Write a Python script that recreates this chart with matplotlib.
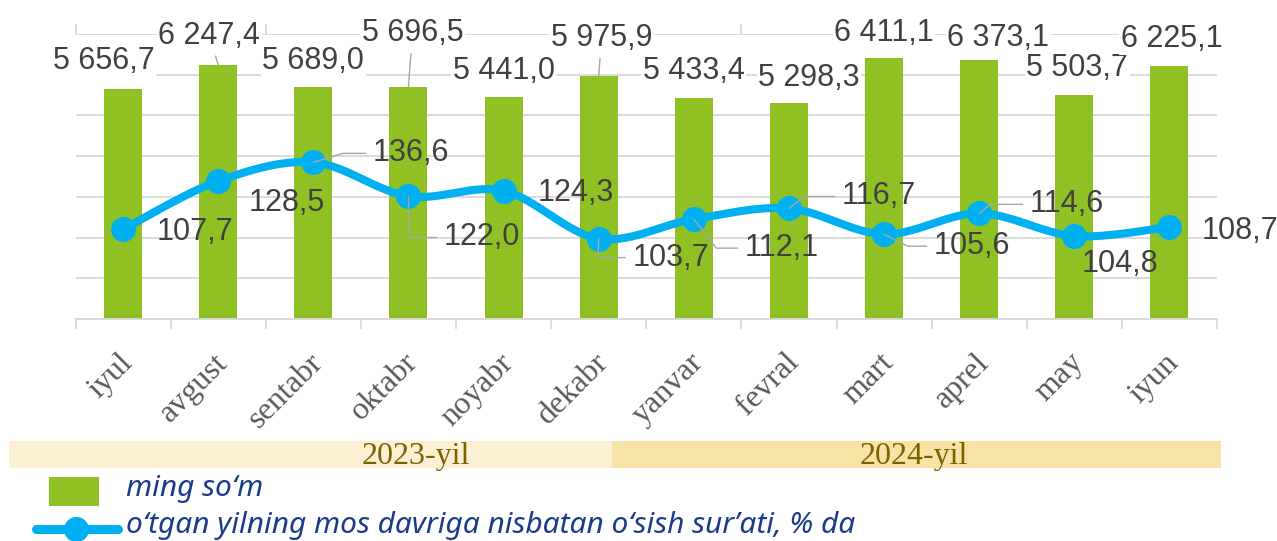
import numpy as np
import matplotlib.pyplot as plt
from matplotlib.patches import Rectangle
from matplotlib.lines import Line2D
from matplotlib.transforms import ScaledTranslation

months = ['iyul', 'avgust', 'sentabr', 'oktabr', 'noyabr', 'dekabr',
          'yanvar', 'fevral', 'mart', 'aprel', 'may', 'iyun']
wages = [5656.7, 6247.4, 5689.0, 5696.5, 5441.0, 5975.9,
         5433.4, 5298.3, 6411.1, 6373.1, 5503.7, 6225.1]
growth = [107.7, 128.5, 136.6, 122.0, 124.3, 103.7,
          112.1, 116.7, 105.6, 114.6, 104.8, 108.7]
years = ['2023-yil', '2024-yil']
legend_labels = ['ming so\u2018m',
                 'o\u2018tgan yilning mos davriga nisbatan o\u2018sish sur\u2019ati, % da']

GREEN = '#8FC125'
BLUE = '#00B0F0'
GRID = '#D9D9D9'
LABEL = '#404040'

# label offsets in screen pixels (dx right, dy down) from bar top / point
bar_off = [(-19, -31), (-9, -32), (0, -29), (4, -57), (0, -29), (3, -41),
           (0, -30), (20, -28), (0, -28), (19, -25), (3, -30), (2, -30)]
bar_leader = [False, True, False, True, False, True,
              False, False, False, False, False, False]
line_off = [(72, 0), (69, 19), (98, -12), (73, 38), (72, -1), (72, 16),
            (88, 26), (90, -15), (88, 9), (88, -12), (46, 25), (70, 1)]
# angle of the leader's slanted leg (None = no leader)
line_leader = [None, None, 17, 90, None, 88, -52, 38, -27, 39, None, None]


def fmt(v):
    return f'{v:,.1f}'.replace(',', ' ').replace('.', ',')


def smooth(xv, yv, n=30):
    # bezier smoothing like office "smoothed line"
    p = np.column_stack([xv, yv]).astype(float)
    pp = np.vstack([p[0], p, p[-1]])
    t = np.linspace(0, 1, n)[:, None]
    out = []
    for i in range(1, len(p)):
        p0, p1, p2, p3 = pp[i - 1], pp[i], pp[i + 1], pp[i + 2]
        c1 = p1 + (p2 - p0) / 6
        c2 = p2 - (p3 - p1) / 6
        seg = ((1 - t) ** 3) * p1 + 3 * ((1 - t) ** 2) * t * c1 + 3 * (1 - t) * t ** 2 * c2 + t ** 3 * p2
        out.append(seg if i == 1 else seg[1:])
    out = np.vstack(out)
    return out[:, 0], out[:, 1]


fig = plt.figure(figsize=(12.77, 5.41), dpi=100)
W, H = 1277, 541
ax = fig.add_axes([75.5 / W, 222 / H, (1217 - 75.5) / W, 285 / H])
ax2 = ax.twinx()

x = np.arange(len(months))
ax.bar(x, wages, width=0.4, color=GREEN, zorder=2)
ax.set_xlim(-0.5, 11.5)
ax.set_ylim(0, 7000)
ax.set_yticks(np.arange(0, 7001, 1000))
ax.yaxis.grid(True, color=GRID, lw=1.3)
ax.set_axisbelow(True)
ax.tick_params(axis='y', left=False, right=False, labelleft=False, labelright=False)
for s in ['left', 'right', 'top']:
    ax.spines[s].set_visible(False)
ax.spines['bottom'].set_color(GRID)
ax.spines['bottom'].set_linewidth(1.3)
ax.set_xticks(x)
ax.set_xticklabels([])
ax.set_xticks(np.arange(-0.5, 12), minor=True)
ax.tick_params(axis='x', which='major', length=0)
ax.tick_params(axis='x', which='minor', length=7, width=1.3, color=GRID,
               top=True, bottom=True, direction='out')

# rotated month labels
for i, m in enumerate(months):
    tr = ax.get_xaxis_transform() + ScaledTranslation(-5 / 100, -29 / 100, fig.dpi_scale_trans)
    ax.text(i, 0, m, transform=tr, rotation=45, ha='right', va='top',
            rotation_mode='anchor', fontsize=23, color='#595959',
            family='Liberation Serif')

ax2.set_ylim(69, 192)
ax2.axis('off')
sx, sy = smooth(x, growth)
ax2.plot(sx, sy, color=BLUE, lw=5.8, solid_capstyle='round', zorder=3)
ax2.plot(x, growth, 'o', ms=17, color=BLUE, zorder=4)

box = dict(boxstyle='square,pad=0.05', fc='white', ec='none')
for i, v in enumerate(wages):
    dx, dy = bar_off[i]
    ap = None
    if bar_leader[i]:
        ap = dict(arrowstyle='-', color='#A6A6A6', lw=1, shrinkA=3, shrinkB=0)
    ax2.annotate(fmt(v), xy=(i, v), xycoords=ax.transData,
                 xytext=(dx, -dy - 3), textcoords='offset pixels',
                 ha='center', va='center', fontsize=22, color=LABEL,
                 family='Liberation Sans', bbox=box, zorder=6,
                 annotation_clip=False, arrowprops=ap)

clear = dict(boxstyle='square,pad=0.1', fc='none', ec='none')
for i, v in enumerate(growth):
    dx, dy = line_off[i]
    ap = None
    if line_leader[i] is not None:
        ap = dict(arrowstyle='-', color='#A6A6A6', lw=1, shrinkA=3, shrinkB=0,
                  connectionstyle=f'angle,angleA=0,angleB={line_leader[i]},rad=0')
    ax2.annotate(fmt(v), xy=(i, v), xytext=(dx, -dy - 3), textcoords='offset pixels',
                 ha='center', va='center', fontsize=22, color=LABEL,
                 family='Liberation Sans', bbox=clear, zorder=6,
                 annotation_clip=False, arrowprops=ap)

# year bands under the axis
fig.patches.append(Rectangle((9 / W, (H - 468) / H), (612 - 9) / W, 27 / H,
                             transform=fig.transFigure, fc='#FBF0D4', ec='none'))
fig.patches.append(Rectangle((612 / W, (H - 468) / H), (1221 - 612) / W, 27 / H,
                             transform=fig.transFigure, fc='#F6E3A5', ec='none'))
fig.text(416 / W, (H - 464) / H, years[0], ha='center', va='baseline',
         fontsize=23, color='#7F6000', family='Liberation Serif')
fig.text(914 / W, (H - 464) / H, years[1], ha='center', va='baseline',
         fontsize=23, color='#7F6000', family='Liberation Serif')

# legend
fig.patches.append(Rectangle((49 / W, (H - 506) / H), 50 / W, 29 / H,
                             transform=fig.transFigure, fc=GREEN, ec='none'))
fig.lines.append(Line2D([36 / W, 118 / W], [(H - 529) / H] * 2, transform=fig.transFigure,
                        color=BLUE, lw=6.5, solid_capstyle='round'))
fig.lines.append(Line2D([76 / W], [(H - 529) / H], transform=fig.transFigure,
                        color=BLUE, marker='o', ms=17))
fig.text(126 / W, (H - 496) / H, legend_labels[0], ha='left', va='baseline',
         fontsize=21.5, style='italic', color='#1A3A8A', family=['Noto Sans', 'DejaVu Sans'])
fig.text(126 / W, (H - 533) / H, legend_labels[1], ha='left', va='baseline',
         fontsize=21.5, style='italic', color='#1A3A8A', family=['Noto Sans', 'DejaVu Sans'])

fig.savefig('out.png', dpi=100)
